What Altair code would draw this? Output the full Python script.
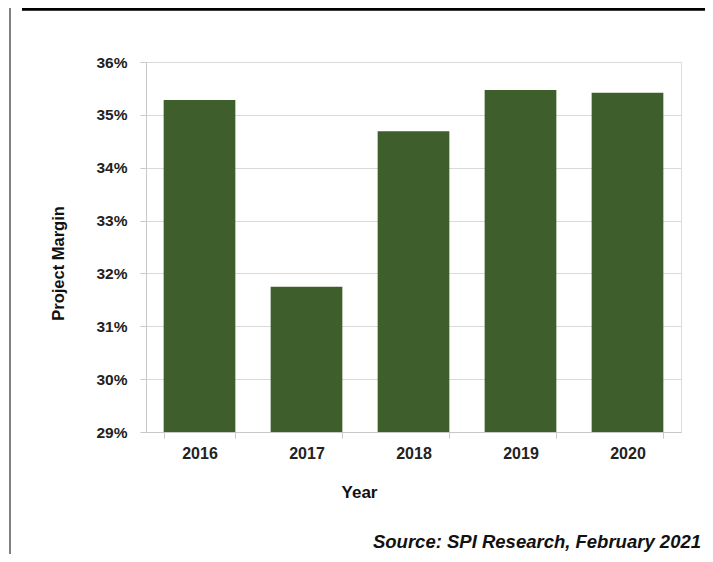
import altair as alt
import pandas as pd

years = ["2016", "2017", "2018", "2019", "2020"]
margins = [0.3528, 0.3175, 0.3469, 0.3547, 0.3542]
y_ticks = [0.29, 0.30, 0.31, 0.32, 0.33, 0.34, 0.35, 0.36]
source_note = "Source: SPI Research, February 2021"

df = pd.DataFrame({"Year": years, "Margin": margins, "Base": [0.29] * len(years)})

FONT = "Liberation Sans"
W, H = 535, 370

bars = alt.Chart(df).mark_bar(color="#3e5f2b").encode(
    x=alt.X("Year:N", title="Year", sort=years,
            scale=alt.Scale(paddingInner=0.33, paddingOuter=0.165),
            axis=alt.Axis(labelAngle=0, labelFont=FONT, labelFontSize=16, labelFontWeight="bold",
                          labelColor="#222222", titleFont=FONT, titleFontSize=17, titleFontWeight="bold",
                          titleColor="#111111", titleX=213, titleY=60, titleBaseline="middle",
                          titleAlign="center", labelPadding=7,
                          domainColor="#c8c8c8", tickColor="#c8c8c8", tickBand="extent", tickSize=6,
                          grid=False)),
    y=alt.Y("Margin:Q", title="Project Margin",
            scale=alt.Scale(domain=[0.29, 0.36], zero=False, nice=False),
            axis=alt.Axis(values=y_ticks, format=".0%", labelFont=FONT, labelFontSize=15.5,
                          labelFontWeight="bold", labelColor="#222222", titleFont=FONT,
                          titleFontSize=16.5, titleFontWeight="bold", titleColor="#111111",
                          titleX=-88, titleY=201, titleBaseline="middle", titleAlign="center",
                          titleAngle=270,
                          labelPadding=13, domainColor="#c8c8c8",
                          tickColor="#c8c8c8", tickSize=6, gridColor="#d9d9d9", grid=True)),
    y2="Base:Q",
)

top_line = alt.Chart(df).mark_rule(color="#000000", strokeWidth=2.5).encode(
    x=alt.value(-124), x2=alt.value(W + 40), y=alt.value(-53))
left_line = alt.Chart(df).mark_rule(color="#808080", strokeWidth=2).encode(
    x=alt.value(-136), y=alt.value(-62), y2=alt.value(492))

note = alt.Chart(pd.DataFrame({"t": [source_note]})).mark_text(
    font=FONT, fontSize=18.5, fontWeight="bold", fontStyle="italic", align="right",
    baseline="middle", color="#111111").encode(
    text="t:N", x=alt.value(555), y=alt.value(480))

chart = alt.layer(bars, top_line, left_line, note).properties(
    width=W, height=H,
    autosize=alt.AutoSizeParams(type="none"),
    padding={"left": 138, "top": 54, "right": 24, "bottom": 122},
).configure_view(stroke=None).configure(background="white")

chart.save("out.html", embed_options={"renderer": "svg", "actions": False})
